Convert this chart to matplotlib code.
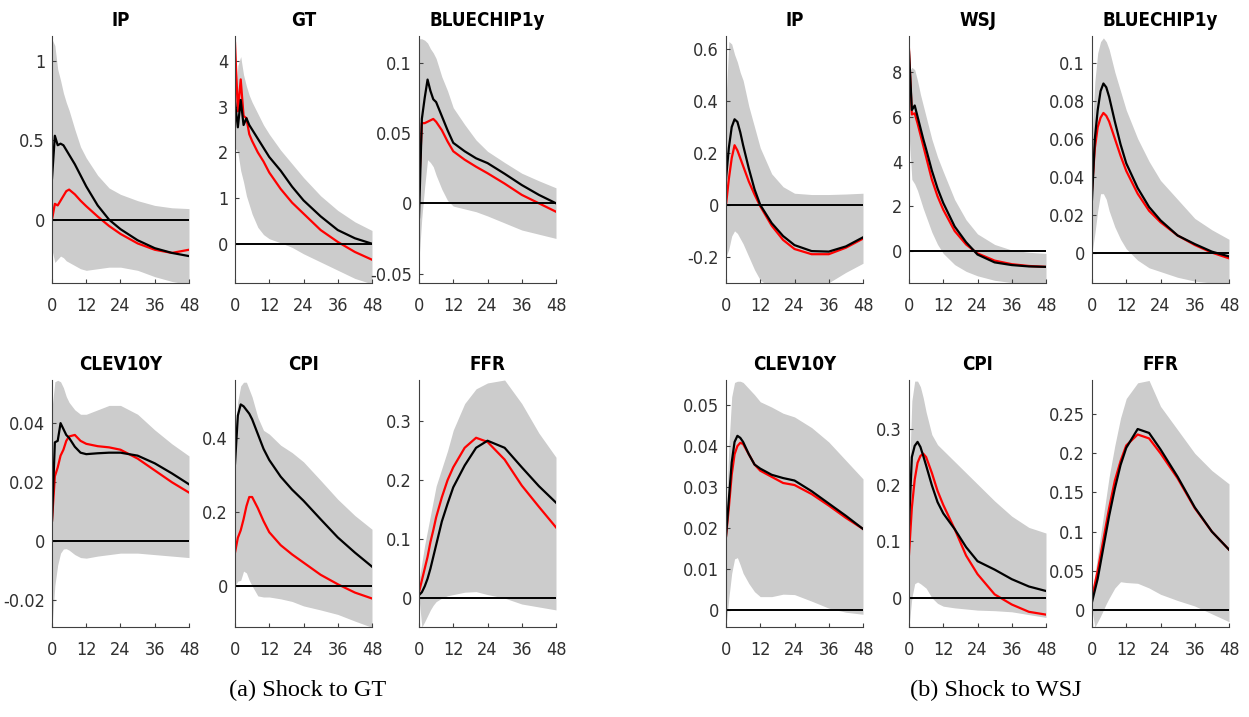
import matplotlib
matplotlib.use('Agg')
import matplotlib.pyplot as plt
from matplotlib import font_manager
from matplotlib.ticker import FuncFormatter

# === FONTS ===
plt.rcParams['axes.unicode_minus'] = False
names = {(f.name, f.stretch) for f in font_manager.fontManager.ttflist}
if ('DejaVu Sans', 'condensed') in names:
    plt.rcParams['font.family'] = 'DejaVu Sans'
    plt.rcParams['font.stretch'] = 'condensed'
elif any(n == 'Liberation Sans Narrow' for n, s in names):
    plt.rcParams['font.family'] = 'Liberation Sans Narrow'

# === DATA (horizon in months) ===
H = [0, 1, 2, 3, 4, 5, 6, 8, 10, 12, 16, 20, 24, 30, 36, 42, 48]

# (a) shock to GT
a_ip_black = [0.26, 0.53, 0.47, 0.48, 0.47, 0.44, 0.41, 0.35, 0.28, 0.21, 0.09, 0.0, -0.06, -0.13, -0.18, -0.21, -0.23]
a_ip_red = [0.0, 0.10, 0.09, 0.12, 0.15, 0.18, 0.19, 0.16, 0.12, 0.085, 0.02, -0.04, -0.09, -0.15, -0.19, -0.21, -0.19]
a_ip_hi = [1.14, 1.1, 0.95, 0.88, 0.80, 0.74, 0.69, 0.57, 0.46, 0.39, 0.28, 0.2, 0.16, 0.12, 0.09, 0.075, 0.07]
a_ip_lo = [-0.19, -0.27, -0.25, -0.23, -0.24, -0.26, -0.27, -0.29, -0.31, -0.32, -0.31, -0.30, -0.30, -0.32, -0.36, -0.39, -0.41]

a_gt_black = [3.1, 2.55, 3.15, 2.6, 2.75, 2.6, 2.5, 2.3, 2.1, 1.9, 1.6, 1.25, 0.95, 0.6, 0.3, 0.12, 0.0]
a_gt_red = [4.4, 2.9, 3.6, 2.8, 2.75, 2.4, 2.25, 2.0, 1.8, 1.56, 1.2, 0.9, 0.66, 0.3, 0.04, -0.18, -0.35]
a_gt_hi = [3.0, 3.9, 4.1, 3.7, 3.45, 3.25, 3.1, 2.85, 2.6, 2.4, 2.05, 1.75, 1.45, 1.05, 0.73, 0.48, 0.29]
a_gt_lo = [2.1, 2.0, 1.6, 1.35, 1.05, 0.85, 0.65, 0.36, 0.2, 0.11, 0.02, -0.08, -0.22, -0.4, -0.58, -0.76, -0.88]

a_bc_black = [-0.01, 0.06, 0.075, 0.088, 0.08, 0.074, 0.072, 0.062, 0.052, 0.043, 0.037, 0.032, 0.0286, 0.021, 0.013, 0.006, 0.0]
a_bc_red = [0.01, 0.057, 0.057, 0.058, 0.059, 0.06, 0.058, 0.052, 0.044, 0.037, 0.031, 0.026, 0.0214, 0.014, 0.006, 0.0, -0.006]
a_bc_hi = [0.117, 0.117, 0.116, 0.114, 0.11, 0.107, 0.103, 0.09, 0.08, 0.068, 0.056, 0.045, 0.037, 0.029, 0.0214, 0.016, 0.011]
a_bc_lo = [-0.04, -0.01, 0.012, 0.031, 0.029, 0.026, 0.02, 0.01, 0.002, -0.002, -0.004, -0.006, -0.009, -0.014, -0.019, -0.022, -0.025]

a_clev_black = [0.007, 0.0335, 0.034, 0.040, 0.038, 0.036, 0.035, 0.032, 0.030, 0.0295, 0.0298, 0.030, 0.030, 0.029, 0.0264, 0.023, 0.0193]
a_clev_red = [0.007, 0.022, 0.025, 0.029, 0.031, 0.034, 0.0355, 0.036, 0.034, 0.033, 0.0322, 0.0318, 0.031, 0.028, 0.024, 0.020, 0.0165]
a_clev_hi = [0.045, 0.054, 0.0545, 0.054, 0.052, 0.049, 0.047, 0.0445, 0.043, 0.043, 0.0445, 0.046, 0.046, 0.043, 0.0377, 0.033, 0.0289]
a_clev_lo = [-0.029, -0.015, -0.008, -0.004, -0.0026, -0.0025, -0.003, -0.0045, -0.0055, -0.0057, -0.005, -0.0045, -0.004, -0.004, -0.0045, -0.005, -0.0055]

a_cpi_black = [0.33, 0.46, 0.49, 0.485, 0.475, 0.465, 0.45, 0.41, 0.37, 0.34, 0.295, 0.26, 0.23, 0.18, 0.131, 0.09, 0.052]
a_cpi_red = [0.09, 0.13, 0.15, 0.18, 0.215, 0.24, 0.24, 0.21, 0.175, 0.145, 0.11, 0.085, 0.063, 0.03, 0.0045, -0.018, -0.034]
a_cpi_hi = [0.42, 0.5, 0.54, 0.55, 0.55, 0.53, 0.51, 0.455, 0.42, 0.41, 0.38, 0.36, 0.335, 0.285, 0.234, 0.19, 0.153]
a_cpi_lo = [0.0, 0.013, 0.015, 0.04, 0.035, 0.015, 0.0, -0.027, -0.03, -0.03, -0.035, -0.042, -0.054, -0.065, -0.077, -0.095, -0.112]

a_ffr_black = [0.005, 0.01, 0.02, 0.033, 0.05, 0.07, 0.09, 0.13, 0.16, 0.188, 0.225, 0.255, 0.267, 0.255, 0.222, 0.19, 0.162]
a_ffr_red = [0.01, 0.03, 0.05, 0.07, 0.095, 0.115, 0.137, 0.171, 0.2, 0.222, 0.255, 0.272, 0.265, 0.235, 0.191, 0.155, 0.12]
a_ffr_hi = [0.03, 0.06, 0.09, 0.115, 0.14, 0.165, 0.19, 0.22, 0.25, 0.285, 0.33, 0.355, 0.365, 0.37, 0.33, 0.28, 0.239]
a_ffr_lo = [0.0, -0.049, -0.04, -0.03, -0.02, -0.012, -0.006, 0.0, 0.004, 0.006, 0.01, 0.011, 0.006, 0.0, -0.01, -0.015, -0.02]

# (b) shock to WSJ
b_ip_black = [0.1, 0.22, 0.30, 0.33, 0.32, 0.28, 0.23, 0.14, 0.06, 0.0, -0.07, -0.12, -0.155, -0.178, -0.18, -0.16, -0.125]
b_ip_red = [0.0, 0.1, 0.18, 0.23, 0.21, 0.18, 0.15, 0.09, 0.04, -0.005, -0.08, -0.135, -0.17, -0.19, -0.19, -0.165, -0.13]
b_ip_hi = [0.4, 0.63, 0.62, 0.58, 0.55, 0.51, 0.48, 0.38, 0.3, 0.22, 0.12, 0.07, 0.045, 0.04, 0.04, 0.042, 0.045]
b_ip_lo = [-0.2, -0.17, -0.12, -0.10, -0.11, -0.13, -0.15, -0.2, -0.25, -0.29, -0.32, -0.33, -0.33, -0.32, -0.3, -0.26, -0.225]

b_wsj_black = [8.9, 6.3, 6.5, 6.0, 5.5, 5.0, 4.55, 3.6, 2.8, 2.15, 1.1, 0.4, -0.15, -0.5, -0.62, -0.68, -0.7]
b_wsj_red = [9.0, 6.1, 6.15, 5.7, 5.2, 4.7, 4.2, 3.2, 2.45, 1.85, 0.9, 0.3, -0.1, -0.42, -0.58, -0.66, -0.7]
b_wsj_hi = [8.0, 8.2, 8.1, 7.6, 7.0, 6.5, 6.0, 5.0, 4.2, 3.55, 2.3, 1.4, 0.77, 0.3, 0.05, -0.05, -0.1]
b_wsj_lo = [5.3, 3.2, 3.0, 2.7, 2.3, 1.9, 1.55, 0.85, 0.3, -0.1, -0.6, -0.9, -1.1, -1.3, -1.4, -1.43, -1.45]

b_bc_black = [0.028, 0.06, 0.075, 0.085, 0.089, 0.087, 0.082, 0.069, 0.057, 0.047, 0.034, 0.024, 0.017, 0.009, 0.0045, 0.0005, -0.002]
b_bc_red = [0.033, 0.055, 0.066, 0.071, 0.0735, 0.072, 0.069, 0.06, 0.051, 0.043, 0.031, 0.022, 0.016, 0.009, 0.004, 0.0, -0.003]
b_bc_hi = [0.06, 0.09, 0.105, 0.111, 0.113, 0.111, 0.107, 0.095, 0.085, 0.075, 0.06, 0.048, 0.038, 0.028, 0.018, 0.012, 0.007]
b_bc_lo = [0.0, 0.01, 0.022, 0.031, 0.031, 0.028, 0.022, 0.0135, 0.007, 0.002, -0.004, -0.008, -0.01, -0.013, -0.015, -0.016, -0.017]

b_clev_black = [0.018, 0.027, 0.036, 0.041, 0.0425, 0.042, 0.041, 0.038, 0.0355, 0.0345, 0.033, 0.0322, 0.0316, 0.029, 0.026, 0.023, 0.0198]
b_clev_red = [0.018, 0.025, 0.033, 0.038, 0.040, 0.0408, 0.0405, 0.038, 0.0355, 0.034, 0.0325, 0.031, 0.0305, 0.0283, 0.0255, 0.0225, 0.0198]
b_clev_hi = [0.022, 0.04, 0.052, 0.0555, 0.0558, 0.0558, 0.0555, 0.054, 0.0525, 0.0508, 0.0495, 0.048, 0.0471, 0.0445, 0.041, 0.0365, 0.032]
b_clev_lo = [-0.004, 0.003, 0.009, 0.0125, 0.0128, 0.011, 0.009, 0.0065, 0.0045, 0.0033, 0.0033, 0.0039, 0.0038, 0.0022, 0.0005, -0.0005, -0.001]

b_cpi_black = [0.13, 0.25, 0.27, 0.277, 0.268, 0.252, 0.235, 0.2, 0.17, 0.15, 0.122, 0.09, 0.065, 0.05, 0.033, 0.02, 0.012]
b_cpi_red = [0.077, 0.16, 0.21, 0.24, 0.252, 0.256, 0.25, 0.222, 0.19, 0.165, 0.122, 0.075, 0.042, 0.006, -0.012, -0.025, -0.03]
b_cpi_hi = [0.2, 0.35, 0.385, 0.385, 0.375, 0.355, 0.33, 0.29, 0.272, 0.262, 0.242, 0.222, 0.202, 0.172, 0.145, 0.125, 0.115]
b_cpi_lo = [-0.052, 0.0, 0.025, 0.028, 0.025, 0.021, 0.017, 0.0, -0.01, -0.015, -0.018, -0.02, -0.022, -0.023, -0.025, -0.03, -0.035]

b_ffr_black = [0.01, 0.025, 0.04, 0.06, 0.08, 0.1, 0.12, 0.155, 0.185, 0.207, 0.231, 0.226, 0.205, 0.17, 0.131, 0.1, 0.077]
b_ffr_red = [0.015, 0.033, 0.05, 0.07, 0.09, 0.11, 0.13, 0.165, 0.19, 0.21, 0.224, 0.219, 0.2, 0.168, 0.13, 0.1, 0.077]
b_ffr_hi = [0.02, 0.045, 0.07, 0.095, 0.12, 0.145, 0.17, 0.21, 0.245, 0.27, 0.29, 0.293, 0.26, 0.23, 0.2, 0.178, 0.161]
b_ffr_lo = [0.0, -0.022, -0.015, -0.008, 0.0, 0.008, 0.015, 0.028, 0.036, 0.035, 0.034, 0.028, 0.02, 0.012, 0.005, -0.005, -0.015]

# === PANELS: title, series, y limits, y ticks ===
panels = [
    ('IP', a_ip_black, a_ip_red, a_ip_lo, a_ip_hi, (-0.40, 1.16), [0, 0.5, 1]),
    ('GT', a_gt_black, a_gt_red, a_gt_lo, a_gt_hi, (-0.86, 4.55), [0, 1, 2, 3, 4]),
    ('BLUECHIP1y', a_bc_black, a_bc_red, a_bc_lo, a_bc_hi, (-0.0567, 0.119), [-0.05, 0, 0.05, 0.1]),
    ('IP', b_ip_black, b_ip_red, b_ip_lo, b_ip_hi, (-0.301, 0.651), [-0.2, 0, 0.2, 0.4, 0.6]),
    ('WSJ', b_wsj_black, b_wsj_red, b_wsj_lo, b_wsj_hi, (-1.42, 9.6), [0, 2, 4, 6, 8]),
    ('BLUECHIP1y', b_bc_black, b_bc_red, b_bc_lo, b_bc_hi, (-0.016, 0.114), [0, 0.02, 0.04, 0.06, 0.08, 0.1]),
    ('CLEV10Y', a_clev_black, a_clev_red, a_clev_lo, a_clev_hi, (-0.029, 0.0546), [-0.02, 0, 0.02, 0.04]),
    ('CPI', a_cpi_black, a_cpi_red, a_cpi_lo, a_cpi_hi, (-0.111, 0.556), [0, 0.2, 0.4]),
    ('FFR', a_ffr_black, a_ffr_red, a_ffr_lo, a_ffr_hi, (-0.049, 0.37), [0, 0.1, 0.2, 0.3]),
    ('CLEV10Y', b_clev_black, b_clev_red, b_clev_lo, b_clev_hi, (-0.0041, 0.0561), [0, 0.01, 0.02, 0.03, 0.04, 0.05]),
    ('CPI', b_cpi_black, b_cpi_red, b_cpi_lo, b_cpi_hi, (-0.052, 0.387), [0, 0.1, 0.2, 0.3]),
    ('FFR', b_ffr_black, b_ffr_red, b_ffr_lo, b_ffr_hi, (-0.0218, 0.2936), [0, 0.05, 0.1, 0.15, 0.2, 0.25]),
]

# === LAYOUT (pixels) ===
W, HT = 1249, 717
col_left = [52, 235, 419, 726, 909, 1092]
row_top = [36, 380]
ax_w, ax_h = 137, 247

fig = plt.figure(figsize=(W / 100, HT / 100), dpi=100)
axis_col = '#404040'

for i, (title, black, red, lo, hi, ylim, yt) in enumerate(panels):
    r, c = divmod(i, 6)
    left = col_left[c]
    top = row_top[r]
    ax = fig.add_axes([left / W, 1 - (top + ax_h) / HT, ax_w / W, ax_h / HT])
    ax.fill_between(H, lo, hi, color='#cccccc', linewidth=0)
    ax.plot(H, red, color='#ff0000', lw=1.6)
    ax.plot(H, black, color='black', lw=1.6)
    ax.axhline(0, color='black', lw=1.4)
    ax.set_xlim(0, 48)
    ax.set_ylim(*ylim)
    ax.set_xticks([0, 12, 24, 36, 48])
    ax.set_yticks(yt)
    ax.yaxis.set_major_formatter(FuncFormatter(lambda v, p: '%g' % round(v, 6)))
    for s in ['top', 'right']:
        ax.spines[s].set_visible(False)
    for s in ['left', 'bottom']:
        ax.spines[s].set_color(axis_col)
        ax.spines[s].set_linewidth(0.8)
    ax.tick_params(direction='in', length=3, width=0.8, color=axis_col,
                   labelsize=13, labelcolor='#303030')
    ax.tick_params(axis='x', pad=10)
    ax.tick_params(axis='y', pad=5)
    ax.set_title(title, fontsize=13.5, fontweight='bold', pad=7)

fig.text(308 / W, 1 - 690 / HT, '(a) Shock to GT', ha='center', va='center',
         family='Liberation Serif', fontsize=17.5)
fig.text(996 / W, 1 - 690 / HT, '(b) Shock to WSJ', ha='center', va='center',
         family='Liberation Serif', fontsize=17.5)

fig.savefig('out.png', dpi=100)
